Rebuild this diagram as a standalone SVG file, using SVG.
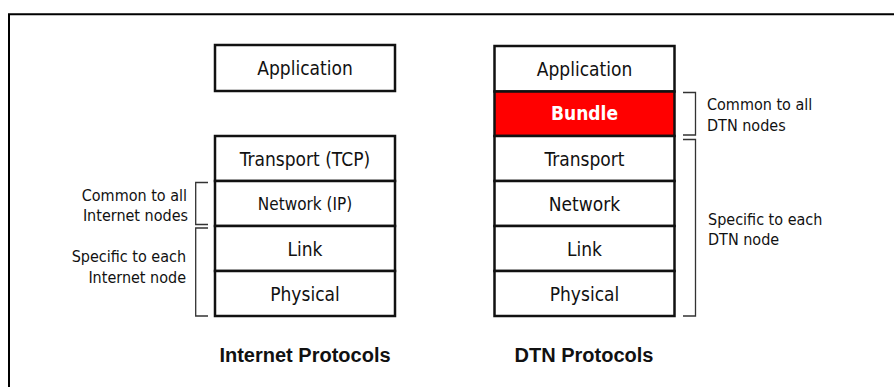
<svg xmlns="http://www.w3.org/2000/svg" width="894" height="387" viewBox="0 0 894 387">
  <style>
    .box { fill: #ffffff; stroke: #111111; stroke-width: 2.5; }
    .bundle { fill: #ff0000; stroke: #111111; stroke-width: 2.5; }
    .lbl { font-family: "DejaVu Sans Condensed", "DejaVu Sans", sans-serif; font-stretch: condensed; font-size: 19px; fill: #111111; text-anchor: middle; }
    .lbl-sm { font-size: 17px; }
    .lbl-bold { font-weight: bold; fill: #ffffff; }
    .side { font-family: "DejaVu Sans Condensed", "DejaVu Sans", sans-serif; font-stretch: condensed; font-size: 16px; fill: #111111; }
    .title { font-family: "Liberation Sans", Arial, sans-serif; font-weight: bold; font-size: 20px; fill: #111111; text-anchor: middle; }
    .bracket { fill: none; stroke: #333333; stroke-width: 1.3; }
    .frame { fill: none; stroke: #000000; stroke-width: 2; }
  </style>

  <path class="frame" d="M9,387 V14.3 H894"/>

  <!-- Internet protocol stack -->
  <g id="inet-application">
    <rect class="box" x="215" y="45" width="180" height="46"/>
    <text class="lbl" x="305" y="75">Application</text>
  </g>
  <g id="inet-transport">
    <rect class="box" x="215" y="136" width="180" height="45"/>
    <text class="lbl" x="305" y="165.5">Transport (TCP)</text>
  </g>
  <g id="inet-network">
    <rect class="box" x="215" y="181" width="180" height="45"/>
    <text class="lbl lbl-sm" x="305" y="209.5">Network (IP)</text>
  </g>
  <g id="inet-link">
    <rect class="box" x="215" y="226" width="180" height="45"/>
    <text class="lbl" x="305" y="255.5">Link</text>
  </g>
  <g id="inet-physical">
    <rect class="box" x="215" y="271" width="180" height="45"/>
    <text class="lbl" x="305" y="300.5">Physical</text>
  </g>

  <!-- DTN protocol stack -->
  <g id="dtn-application">
    <rect class="box" x="494.5" y="46" width="180" height="45.5"/>
    <text class="lbl" x="584.5" y="75.5">Application</text>
  </g>
  <g id="dtn-bundle">
    <rect class="bundle" x="494.5" y="91.5" width="180" height="44.5"/>
    <text class="lbl lbl-bold" x="584.5" y="120">Bundle</text>
  </g>
  <g id="dtn-transport">
    <rect class="box" x="494.5" y="136" width="180" height="45"/>
    <text class="lbl" x="584.5" y="165.5">Transport</text>
  </g>
  <g id="dtn-network">
    <rect class="box" x="494.5" y="181" width="180" height="45"/>
    <text class="lbl" x="584.5" y="210.5">Network</text>
  </g>
  <g id="dtn-link">
    <rect class="box" x="494.5" y="226" width="180" height="45"/>
    <text class="lbl" x="584.5" y="255.5">Link</text>
  </g>
  <g id="dtn-physical">
    <rect class="box" x="494.5" y="271" width="180" height="45"/>
    <text class="lbl" x="584.5" y="300.5">Physical</text>
  </g>

  <!-- Brackets -->
  <g id="brackets">
    <path class="bracket" d="M208,182.5 H195.7 V224.5 H208"/>
    <path class="bracket" d="M208,228 H195.7 V316 H208"/>
    <path class="bracket" d="M683,92.5 H695.5 V135 H683"/>
    <path class="bracket" d="M683,139.5 H695.5 V316 H683"/>
  </g>

  <!-- Annotations -->
  <g id="inet-common-label">
    <text class="side" text-anchor="end" x="187" y="200.5">Common to all</text>
    <text class="side" text-anchor="end" x="188" y="221">Internet nodes</text>
  </g>
  <g id="inet-specific-label">
    <text class="side" text-anchor="end" x="186" y="262">Specific to each</text>
    <text class="side" text-anchor="end" x="186" y="282.5">Internet node</text>
  </g>
  <g id="dtn-common-label">
    <text class="side" x="707" y="110">Common to all</text>
    <text class="side" x="707" y="130.5">DTN nodes</text>
  </g>
  <g id="dtn-specific-label">
    <text class="side" x="708" y="225">Specific to each</text>
    <text class="side" x="708" y="245">DTN node</text>
  </g>

  <!-- Titles -->
  <g id="inet-title">
    <text class="title" x="305" y="362">Internet Protocols</text>
  </g>
  <g id="dtn-title">
    <text class="title" x="584" y="362">DTN Protocols</text>
  </g>
</svg>
